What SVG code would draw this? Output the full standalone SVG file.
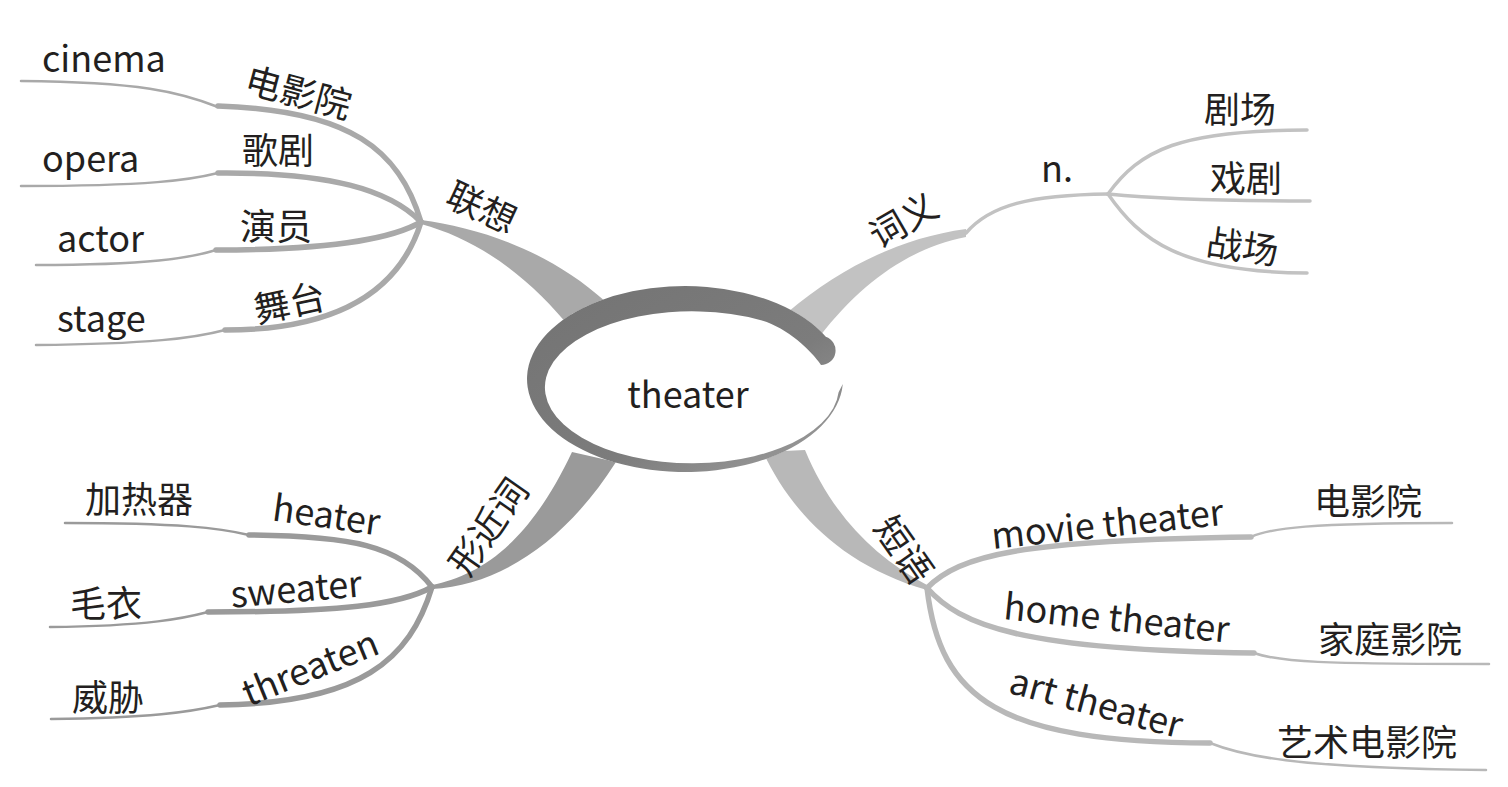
<svg xmlns="http://www.w3.org/2000/svg" width="1508" height="787" viewBox="0 0 1508 787">
<style>
text{font-family:"Noto Sans CJK SC","Noto Sans",sans-serif;fill:#231f20;font-size:36px}
.c{text-anchor:middle;dominant-baseline:central}
.l{fill:none;stroke-linecap:round}
.g1{stroke:#a9a9a9}
.g2{stroke:#c2c2c2}
.g3{stroke:#9a9a9a}
.g4{stroke:#b8b8b8}
.t{stroke-width:5.5}
.n{stroke-width:2.5}
</style>
<defs>
<linearGradient id="ring" x1="0" y1="0" x2="1" y2="1">
<stop offset="0" stop-color="#737373"/>
<stop offset="0.6" stop-color="#7c7c7c"/>
<stop offset="1" stop-color="#a0a0a0"/>
</linearGradient>
</defs>
<rect width="1508" height="787" fill="#fff"/>
<g id="connectors">
<path d="M421,220 C480,228 548,250 606,302 L572,330 C530,278 480,240 421,224 Z" fill="#a9a9a9"/>
<path d="M788,312 C840,268 900,238 966,229 L966,237 C910,248 862,282 820,336 Z" fill="#c2c2c2"/>
<path class="l g2" stroke-width="3.5" d="M966,233 C990,205 1030,195 1108,194"/>
<path d="M432,585 C480,575 528,545 572,452 L616,462 C565,542 500,585 432,589 Z" fill="#9a9a9a"/>
<path d="M927,590 C840,565 790,510 763,452 L805,450 C830,510 870,555 927,585 Z" fill="#b8b8b8"/>
<path class="l g1 t" d="M421,222 C400,150 350,110 218,106"/>
<path class="l g1 n" d="M218,107 C180,92 140,82 21,81"/>
<path class="l g1 t" d="M421,222 C390,190 330,172 218,173"/>
<path class="l g1 n" d="M218,173 C190,180 150,186 21,186"/>
<path class="l g1 t" d="M421,222 C390,240 320,250 216,250"/>
<path class="l g1 n" d="M216,250 C190,258 150,265 36,265"/>
<path class="l g1 t" d="M421,222 C400,290 340,330 225,330"/>
<path class="l g1 n" d="M225,330 C195,338 150,344 36,345"/>
<path class="l g2" stroke-width="3.5" d="M1108,194 C1140,150 1180,130 1307,130"/>
<path class="l g2" stroke-width="3.5" d="M1108,194 C1150,198 1200,201 1310,201"/>
<path class="l g2" stroke-width="3.5" d="M1108,194 C1140,240 1180,272 1307,273"/>
<path class="l g3 t" d="M432,587 C400,545 350,536 249,535"/>
<path class="l g3 n" d="M249,535 C220,528 180,523 65,523"/>
<path class="l g3 t" d="M432,587 C400,605 340,612 208,612"/>
<path class="l g3 n" d="M208,612 C185,618 150,626 50,627"/>
<path class="l g3 t" d="M432,587 C410,660 360,703 220,705"/>
<path class="l g3 n" d="M220,705 C190,712 150,718 51,719"/>
<path class="l g4 t" d="M927,588 C960,555 1020,540 1251,537"/>
<path class="l g4 n" d="M1251,537 C1270,528 1310,523 1452,523"/>
<path class="l g4 t" d="M927,588 C960,625 1020,650 1254,653"/>
<path class="l g4 n" d="M1254,653 C1280,662 1320,664 1489,664"/>
<path class="l g4 t" d="M927,588 C940,700 1000,742 1210,743"/>
<path class="l g4 n" d="M1210,743 C1240,755 1290,768 1486,770"/>
</g>
<g id="center">
<ellipse cx="685" cy="379" rx="158" ry="93" fill="#fff"/>
<path d="M842.8,383.9 A158,93 0 1 1 825.8,336.8 A14.5,14.5 0 0 1 821,365 C811,350 786,327 760,320 A147,76 0 1 0 838.6,392.3 Z" fill="url(#ring)"/>
<text class="c" x="688" y="392">theater</text>
</g>
<g id="n-lianxiang"><text class="c" transform="translate(483,205) rotate(25)">联想</text></g>
<g id="n-cinema-cn"><text class="c" transform="translate(299,90) rotate(15)">电影院</text></g>
<g id="n-cinema"><text x="42" y="72">cinema</text></g>
<g id="n-opera-cn"><text class="c" x="278" y="148">歌剧</text></g>
<g id="n-opera"><text x="42" y="172">opera</text></g>
<g id="n-actor-cn"><text class="c" x="276" y="224">演员</text></g>
<g id="n-actor"><text x="57" y="252">actor</text></g>
<g id="n-stage-cn"><text class="c" transform="translate(289,300) rotate(-12)">舞台</text></g>
<g id="n-stage"><text x="57" y="332">stage</text></g>
<g id="n-ciyi"><text class="c" transform="translate(902,218) rotate(-30)">词义</text></g>
<g id="n-n"><text x="1041" y="182">n.</text></g>
<g id="n-juchang"><text class="c" x="1240" y="107">剧场</text></g>
<g id="n-xiju"><text class="c" x="1246" y="176">戏剧</text></g>
<g id="n-zhanchang"><text class="c" transform="translate(1243,244) rotate(8)">战场</text></g>
<g id="n-xingjinci"><text class="c" transform="translate(486,525) rotate(-55)">形近词</text></g>
<g id="n-heater-cn"><text class="c" x="139" y="497">加热器</text></g>
<g id="n-heater"><text class="c" transform="translate(327,512) rotate(8)">heater</text></g>
<g id="n-sweater-cn"><text class="c" x="106" y="601">毛衣</text></g>
<g id="n-sweater"><text class="c" transform="translate(296,586) rotate(-5)">sweater</text></g>
<g id="n-threaten-cn"><text class="c" x="108" y="695">威胁</text></g>
<g id="n-threaten"><text class="c" transform="translate(309,665) rotate(-22)">threaten</text></g>
<g id="n-duanyu"><text class="c" transform="translate(906,548) rotate(55)">短语</text></g>
<g id="n-movie"><text class="c" transform="translate(1107,521) rotate(-6)">movie theater</text></g>
<g id="n-movie-cn"><text class="c" x="1368" y="499">电影院</text></g>
<g id="n-home"><text class="c" transform="translate(1117,615) rotate(6)">home theater</text></g>
<g id="n-home-cn"><text class="c" x="1390" y="637">家庭影院</text></g>
<g id="n-art"><text class="c" transform="translate(1097,700) rotate(15)">art theater</text></g>
<g id="n-art-cn"><text class="c" x="1367" y="740">艺术电影院</text></g>
</svg>
